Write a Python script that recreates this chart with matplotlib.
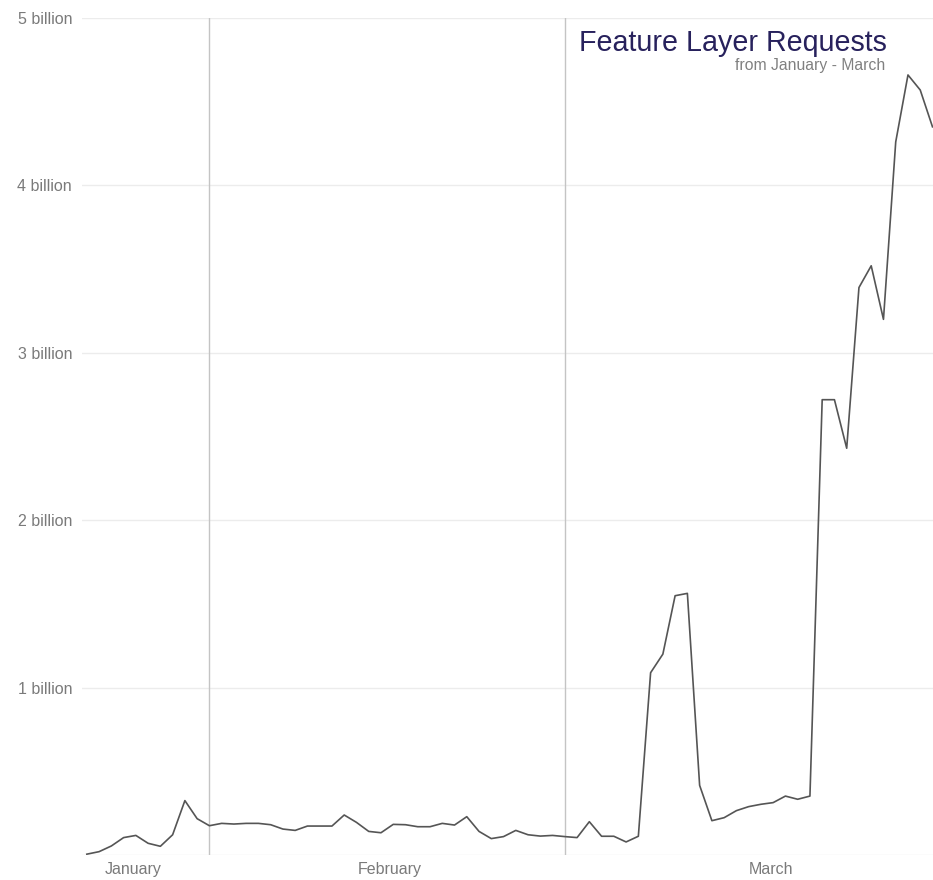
import datetime as dt
import matplotlib
matplotlib.use('Agg')
import matplotlib.pyplot as plt
import matplotlib.dates as mdates

plt.rcParams['font.family'] = ['Liberation Sans', 'DejaVu Sans']

# daily feature layer requests, in billions, starting Jan 22 2020
first_day = dt.datetime(2020, 1, 22)
requests_billion = [
    0.005, 0.02, 0.054, 0.104, 0.117, 0.070, 0.052, 0.121, 0.325, 0.217,   # Jan 22-31
    0.175, 0.189, 0.185, 0.189, 0.189, 0.181, 0.155, 0.147, 0.173, 0.173,  # Feb 1-10
    0.173, 0.239, 0.195, 0.141, 0.133, 0.183, 0.181, 0.169, 0.169, 0.189,  # Feb 11-20
    0.179, 0.229, 0.141, 0.098, 0.110, 0.147, 0.121, 0.113, 0.117,         # Feb 21-29
    0.110, 0.104, 0.199, 0.112, 0.112, 0.078, 0.112, 1.089, 1.200, 1.549,  # Mar 1-10
    1.563, 0.416, 0.205, 0.223, 0.265, 0.289, 0.303, 0.313, 0.352, 0.333,  # Mar 11-20
    0.352, 2.720, 2.720, 2.430, 3.390, 3.520, 3.200, 4.260, 4.660, 4.570,  # Mar 21-30
    4.350,                                                                 # Mar 31
]
days = [first_day + dt.timedelta(days=i) for i in range(len(requests_billion))]

month_starts = [dt.datetime(2020, 2, 1), dt.datetime(2020, 3, 1)]
month_names = ["January", "February", "March"]
month_label_at = [dt.datetime(2020, 1, 25, 19), dt.datetime(2020, 2, 15, 17),
                  dt.datetime(2020, 3, 17, 20)]

y_ticks = [0, 1, 2, 3, 4, 5]
y_tick_labels = ["", "1 billion", "2 billion", "3 billion", "4 billion", "5 billion"]

fig = plt.figure(figsize=(9.33, 8.8), dpi=100)
ax = fig.add_axes([0.0876, 0.0284, 0.9124, 0.9511])

ax.plot(days, requests_billion, color='#555555', linewidth=1.2, zorder=3)

for m in month_starts:
    ax.axvline(m, color='#c4c4c4', linewidth=1.0, zorder=2)

ax.set_ylim(0, 5)
ax.set_yticks(y_ticks)
ax.set_yticklabels(y_tick_labels)
ax.grid(axis='y', color='#ececec', linewidth=1.0, zorder=1)

ax.set_xlim(first_day - dt.timedelta(hours=10), dt.datetime(2020, 3, 31, 1))
ax.set_xticks([mdates.date2num(d) for d in month_label_at])
ax.set_xticklabels(month_names)

ax.tick_params(axis='both', length=0, labelsize=11.5, labelcolor='#7a7a7a')
ax.tick_params(axis='y', pad=7)
ax.tick_params(axis='x', pad=5)
for s in ax.spines.values():
    s.set_visible(False)

fig.text(887 / 933, 1 - 51 / 880, "Feature Layer Requests", ha='right', va='baseline',
         fontsize=20.6, color='#27215c')
fig.text(885 / 933, 1 - 70 / 880, "from January - March", ha='right', va='baseline',
         fontsize=11.3, color='#808080')

fig.savefig('out.png', dpi=100, facecolor='white')
